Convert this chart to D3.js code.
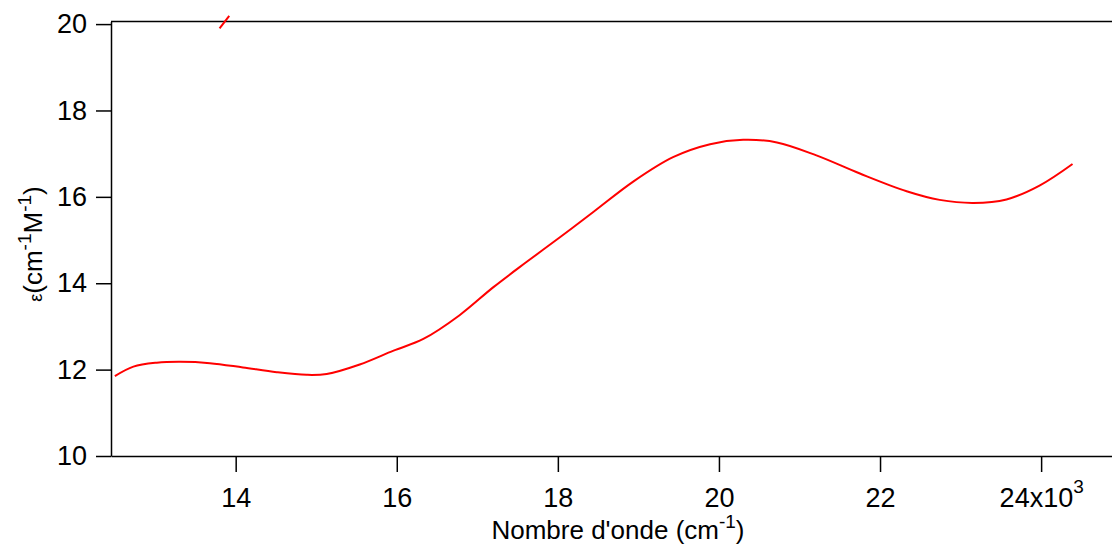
<!DOCTYPE html>
<html>
<head>
<meta charset="utf-8">
<script src="https://cdn.jsdelivr.net/npm/d3@7"></script>
<style>
  body { margin: 0; background: #fff; }
  svg { display: block; }
  text { font-family: "Liberation Sans", Arial, sans-serif; fill: #000; }
</style>
</head>
<body>
<div id="chart"></div>
<script>
// wavenumber (cm-1) and epsilon values
const wavenumber = [12500, 12730, 13020, 13310, 13680, 14090, 14510, 14880, 15130, 15540,
  15960, 16330, 16780, 17200, 17610, 18030, 18440, 18940, 19430, 19890,
  20300, 20720, 21210, 21750, 22330, 22740, 23160, 23570, 23980, 24390];
const epsilon = [11.85, 12.07, 12.16, 12.18, 12.15, 12.05, 11.94, 11.88, 11.9, 12.12,
  12.44, 12.71, 13.26, 13.91, 14.49, 15.07, 15.65, 16.36, 16.92, 17.22,
  17.32, 17.26, 16.96, 16.54, 16.13, 15.93, 15.86, 15.94, 16.26, 16.76];

// short stray segment near the top of the frame
const strayX = [13800, 13920];
const strayY = [19.9, 20.19];

const xTicks = [14000, 16000, 18000, 20000, 22000, 24000];
const yTicks = [10, 12, 14, 16, 18, 20];

const W = 1112, H = 544;
const plot = { left: 111, right: 1112, top: 21.5, bottom: 456 };
const tickFont = 27, titleFont = 26, supFont = 19;

const svg = d3.select("#chart").append("svg")
  .attr("width", W)
  .attr("height", H);

const x = d3.scaleLinear().domain([12452, 24880]).range([plot.left, plot.right]);
const y = d3.scaleLinear().domain([10, 20.06]).range([plot.bottom, plot.top]);

// frame line on top
svg.append("line")
  .attr("x1", plot.left).attr("x2", plot.right)
  .attr("y1", plot.top).attr("y2", plot.top)
  .attr("stroke", "#000").attr("stroke-width", 1.5);

// x axis
const xAxis = svg.append("g")
  .attr("transform", `translate(0,${plot.bottom})`)
  .call(d3.axisBottom(x).tickValues(xTicks).tickSize(16).tickSizeOuter(0)
    .tickFormat(d => d / 1000));
xAxis.select(".domain").attr("stroke-width", 1.5);
xAxis.selectAll(".tick line").attr("stroke-width", 1.5);
xAxis.selectAll("text")
  .attr("font-size", tickFont)
  .attr("font-family", "Liberation Sans, Arial, sans-serif")
  .attr("y", 51)
  .attr("dy", 0);

// the last tick gets the x10^3 suffix
xAxis.selectAll(".tick").filter(d => d === 24000).select("text")
  .text(null)
  .attr("text-anchor", "start")
  .attr("x", -42)
  .call(t => {
    t.append("tspan").text("24x10");
    t.append("tspan").text("3").attr("font-size", supFont).attr("dy", -14);
  });

// y axis
const yAxis = svg.append("g")
  .attr("transform", `translate(${plot.left},0)`)
  .call(d3.axisLeft(y).tickValues(yTicks).tickSize(15).tickSizeOuter(0));
yAxis.select(".domain").attr("stroke-width", 1.5);
yAxis.selectAll(".tick line").attr("stroke-width", 1.5);
yAxis.selectAll("text")
  .attr("font-size", tickFont)
  .attr("font-family", "Liberation Sans, Arial, sans-serif")
  .attr("x", -24);

// axis titles
const xt = svg.append("text")
  .attr("x", 618)
  .attr("y", 539)
  .attr("text-anchor", "middle")
  .attr("font-size", titleFont);
xt.append("tspan").text("Nombre d'onde (cm");
xt.append("tspan").text("-1").attr("font-size", supFont).attr("dy", -11);
xt.append("tspan").text(")").attr("dy", 11);

const yt = svg.append("text")
  .attr("transform", "translate(42,244) rotate(-90)")
  .attr("text-anchor", "middle")
  .attr("font-size", titleFont);
yt.append("tspan").text("ε").attr("font-size", 18);
yt.append("tspan").text("(cm");
yt.append("tspan").text("-1").attr("font-size", supFont).attr("dy", -11);
yt.append("tspan").text("M").attr("dy", 11);
yt.append("tspan").text("-1").attr("font-size", supFont).attr("dy", -11);
yt.append("tspan").text(")").attr("dy", 11);

// curves
const line = d3.line()
  .x(i => x(wavenumber[i]))
  .y(i => y(epsilon[i]))
  .curve(d3.curveCatmullRom.alpha(0.5));

svg.append("path")
  .attr("d", line(d3.range(wavenumber.length)))
  .attr("fill", "none")
  .attr("stroke", "#ff0000")
  .attr("stroke-width", 2);

const strayLine = d3.line()
  .x(i => x(strayX[i]))
  .y(i => y(strayY[i]));

svg.append("path")
  .attr("d", strayLine(d3.range(strayX.length)))
  .attr("fill", "none")
  .attr("stroke", "#ff0000")
  .attr("stroke-width", 2);
</script>
</body>
</html>
